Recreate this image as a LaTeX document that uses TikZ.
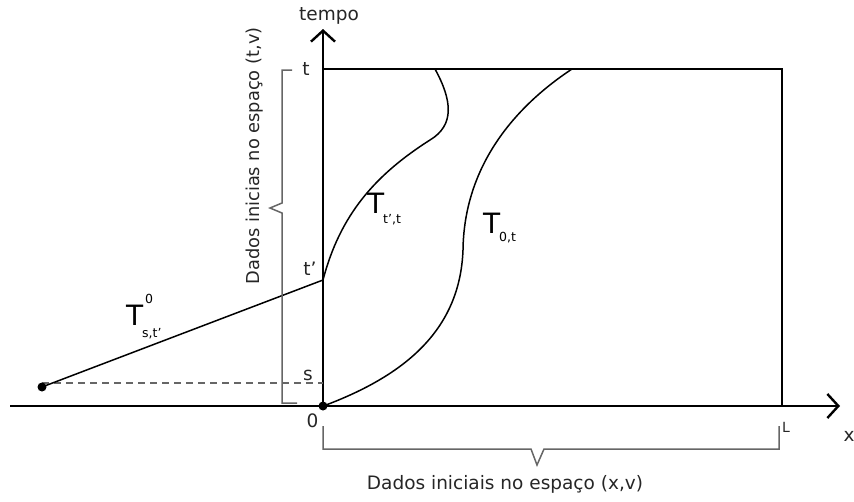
\documentclass[tikz,border=0pt]{standalone}
\usepackage{fontspec}
\setmainfont{DejaVu Sans}
\usetikzlibrary{arrows.meta}
\begin{document}
\begin{tikzpicture}[x=1pt,y=-1pt,
  axis/.style={line width=2.6pt,black},
  box/.style={line width=1.8pt,black},
  curve/.style={line width=1.5pt,black},
  brace/.style={line width=1.5pt,draw=black!60},
  lbl/.style={font=\fontsize{18.5}{22}\selectfont,inner sep=0pt,text=black!85},
  big/.style={font=\fontsize{28}{30}\selectfont,inner sep=0pt,anchor=base west},
  small/.style={font=\fontsize{12.5}{14}\selectfont,inner sep=0pt,anchor=base west},
  tip/.style={-{Straight Barb[length=11pt,width=24pt,line width=2.4pt]}}]
\useasboundingbox (0,0) rectangle (854,501);
% named points
\coordinate (O) at (323,406);
\coordinate (xend) at (840,406);
\coordinate (xstart) at (10,406);
\coordinate (yend) at (323,29);
\coordinate (TL) at (323,69);
\coordinate (TR) at (782,69);
\coordinate (BR) at (782,406);
\coordinate (tp) at (323,280);
\coordinate (P) at (42,387);
\coordinate (sL) at (42,383);
\coordinate (sR) at (323,383);
% rectangle
\draw[box] (TL) -- (TR) -- (BR);
% axes
\draw[axis,tip] (xstart) -- (xend);
\draw[axis,tip] (O) -- (yend);
% dashed line
\draw[line width=1.2pt,black!60,dash pattern=on 7pt off 5pt] (sL) -- (sR);
% line from point to t'
\draw[curve] (P) -- (tp);
\fill (P) circle (4.5pt);
\fill (O) circle (4.5pt);
% curves
\draw[curve] (tp) .. controls (340,215) and (375,175) .. (430,140)
                  .. controls (455,125) and (452,100) .. (435,69);
\draw[curve] (326,405) .. controls (405,375) and (460,330) .. (463,250)
                  .. controls (464,170) and (510,110) .. (572,69);
% left brace
\draw[brace] (292,70) -- (282,70) -- (282,203) -- (270,208) -- (282,213) -- (282,403) -- (297,403);
\node[font=\fontsize{17.8}{21}\selectfont,inner sep=0pt,text=black!85,rotate=90,anchor=base] (ylab) at (259,156) {Dados inicias no espaço (t,v)};
% bottom brace
\draw[brace] (323,426) -- (323,449) -- (531,449) -- (537,465) -- (544,449) -- (779,449) -- (779,426);
\node[lbl,anchor=base] (xlab) at (505,489) {Dados iniciais no espaço (x,v)};
% axis labels
\node[lbl,anchor=base] (tempo) at (329,20) {tempo};
\node[lbl,anchor=base] (lt) at (306,75) {t};
\node[lbl,anchor=base] (ltp) at (310,275) {t'};
\node[lbl,anchor=base] (ls) at (308,380) {s};
\node[lbl,anchor=base] (l0) at (312.5,427) {0};
\node[lbl,anchor=base west,font=\fontsize{14}{16}\selectfont] (lL) at (782,432) {L};
\node[lbl,anchor=base] (lx) at (849,441) {x};
% T labels
\node[big] (T1) at (367,213) {T};
\node[small] (T1s) at (383,223) {t',t};
\node[big] (T2) at (483,233) {T};
\node[small] (T2s) at (499,241) {0,t};
\node[big] (T3) at (126,325) {T};
\node[small] (T3s) at (142,337) {s,t'};
\node[small] (T3p) at (145,303) {0};
\end{tikzpicture}
\end{document}
